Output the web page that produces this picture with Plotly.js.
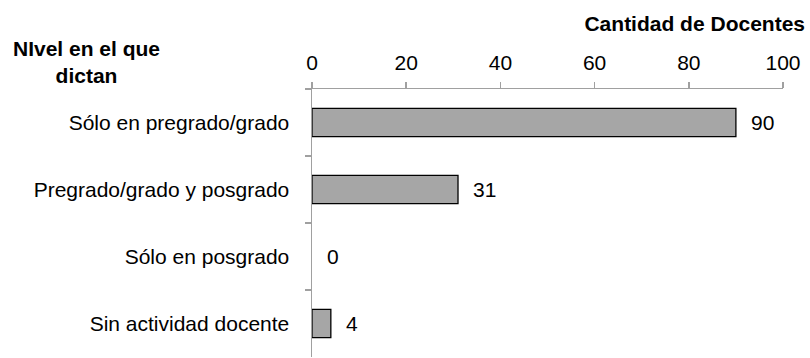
<!DOCTYPE html>
<html>
<head>
<meta charset="utf-8">
<script src="https://cdn.plot.ly/plotly-3.0.1.min.js"></script>
<style>html,body{margin:0;padding:0;background:#fff;}#chart{width:810px;height:358px;}</style>
</head>
<body>
<div id="chart"></div>
<script>
const categories = ["Sólo en pregrado/grado", "Pregrado/grado y posgrado", "Sólo en posgrado", "Sin actividad docente"];
const values = [90, 31, 0, 4];
const xTickVals = [0, 20, 40, 60, 80, 100];
const xTitle = "Cantidad de Docentes";
const yTitle = "NIvel en el que<br>dictan";

const FONT = '"Liberation Sans", Arial, sans-serif';

const trace = {
  type: 'bar',
  orientation: 'h',
  x: values,
  y: categories,
  marker: {color: '#a6a6a6', line: {color: '#000000', width: values.map(v => v > 0 ? 1.3 : 0)}},
  hoverinfo: 'none'
};

const annotations = categories.map((c, i) => ({
  x: values[i], y: c, xref: 'x', yref: 'y',
  text: String(values[i]), showarrow: false,
  xanchor: 'left', yanchor: 'middle', xshift: 13,
  font: {family: FONT, size: 21, color: '#000'}
}));
annotations.push({
  xref: 'paper', yref: 'paper', x: -0.478, y: 1.1,
  text: '<b>' + yTitle + '</b>', showarrow: false,
  xanchor: 'center', yanchor: 'middle', align: 'center',
  font: {family: FONT, size: 21, color: '#000'}
});

const layout = {
  width: 810, height: 358,
  margin: {l: 312, r: 27, t: 89, b: 1, pad: 0},
  paper_bgcolor: '#fff', plot_bgcolor: '#fff',
  showlegend: false,
  bargap: 0.58,
  font: {family: FONT, size: 21, color: '#000'},
  title: {
    text: '<b>' + xTitle + '</b>',
    xref: 'container', yref: 'container',
    x: 805/810, xanchor: 'right',
    y: 1 - 24/358, yanchor: 'middle',
    font: {family: FONT, size: 21, color: '#000'}
  },
  xaxis: {
    side: 'top', range: [0, 100], tickvals: xTickVals,
    showgrid: false, zeroline: false,
    showline: true, linecolor: '#a0a0a0', linewidth: 1.5,
    ticks: 'outside', ticklen: 6, tickcolor: '#a0a0a0', tickwidth: 1.5,
    ticklabelstandoff: 3,
    tickfont: {family: FONT, size: 21, color: '#000'}
  },
  yaxis: {
    autorange: 'reversed', type: 'category',
    showgrid: false, zeroline: false,
    showline: true, linecolor: '#a0a0a0', linewidth: 1.5,
    ticks: 'outside', tickson: 'boundaries', ticklen: 6, tickcolor: '#a0a0a0', tickwidth: 1.5,
    ticklabelstandoff: 17,
    tickfont: {family: FONT, size: 21, color: '#000'}
  },
  annotations: annotations
};

Plotly.newPlot('chart', [trace], layout, {staticPlot: true, displayModeBar: false});
</script>
</body>
</html>
